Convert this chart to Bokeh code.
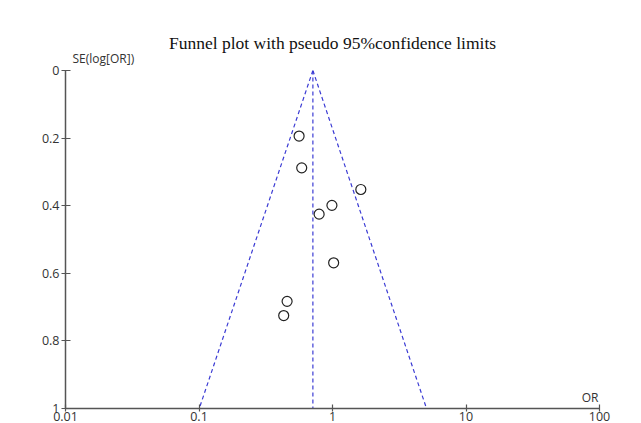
import math
from bokeh.plotting import figure
from bokeh.models import Range1d, FixedTicker, Label, Title
from bokeh.embed import file_html
from bokeh.resources import INLINE

# data
study_or = [0.562, 0.588, 1.63, 0.99, 0.794, 1.02, 0.457, 0.431]
study_se = [0.194, 0.288, 0.352, 0.399, 0.425, 0.569, 0.683, 0.725]
pooled_or = 0.713
se_limits = [0.0, 1.0]
x_ticks = [0.01, 0.1, 1, 10, 100]
x_tick_labels = ["0.01", "0.1", "1", "10", "100"]
y_ticks = [0, 0.2, 0.4, 0.6, 0.8, 1.0]
y_tick_labels = ["0", "0.2", "0.4", "0.6", "0.8", "1"]
title_text = "Funnel plot with pseudo 95%confidence limits"
y_label = "SE(log[OR])"
x_label = "OR"

p = figure(width=641, height=423, x_axis_type="log",
           x_range=Range1d(0.01, 100), y_range=Range1d(1.0, 0.0),
           output_backend="svg", toolbar_location=None,
           min_border_left=65, min_border_right=42, min_border_top=70,
           min_border_bottom=0)
p.grid.visible = False
p.outline_line_color = None
p.background_fill_color = "white"
p.border_fill_color = "white"

axis_color = "#555555"
label_color = "#333333"
for ax in (p.xaxis[0], p.yaxis[0]):
    ax.axis_line_color = axis_color
    ax.axis_line_width = 1.5
    ax.major_tick_line_color = axis_color
    ax.major_tick_line_width = 1.2
    ax.minor_tick_line_color = None
    ax.major_label_text_font = "Open Sans"
    ax.major_label_text_font_size = "12.5px"
    ax.major_label_text_color = label_color

p.xaxis.ticker = FixedTicker(ticks=x_ticks)
p.xaxis.major_label_overrides = {t: l for t, l in zip(x_ticks, x_tick_labels)}
p.xaxis.major_tick_in = 4
p.xaxis.major_tick_out = 3
p.xaxis.major_label_standoff = 0

p.yaxis.ticker = FixedTicker(ticks=y_ticks)
p.yaxis.major_label_overrides = {t: l for t, l in zip(y_ticks, y_tick_labels)}
p.yaxis.major_tick_in = 5
p.yaxis.major_tick_out = 4
p.yaxis.major_label_standoff = 2

# funnel lines (pseudo 95% limits)
blue = "#3b3bd4"
z = 1.96
lo = [pooled_or * math.exp(-z * s) for s in se_limits]
hi = [pooled_or * math.exp(z * s) for s in se_limits]
p.line(lo, se_limits, line_color=blue, line_dash="4 3", line_width=1.2)
p.line(hi, se_limits, line_color=blue, line_dash="4 3", line_width=1.2)
p.line([pooled_or, pooled_or], se_limits, line_color=blue, line_dash="4 3", line_width=1.2)

p.scatter(study_or, study_se, size=10, fill_color="white", line_color="#222222",
          line_width=1.2)

# y-axis caption next to the top of the axis (closest to the frame)
p.add_layout(Title(text=y_label, align="left", offset=7, standoff=8,
                   text_font="Open Sans", text_font_size="12px",
                   text_line_height=0.6,
                   text_font_style="normal", text_color=label_color), "above")
# main title
p.add_layout(Title(text=title_text, align="center", offset=7, standoff=-18,
                   text_font="Liberation Serif", text_font_size="17.5px",
                   text_font_style="normal", text_color="#111111"), "above")

p.add_layout(Label(x=100, y=1, x_offset=-1, y_offset=3, text=x_label,
                   text_align="right", text_baseline="bottom",
                   text_font="Open Sans", text_font_size="12px",
                   text_color=label_color))

open("out.html", "w").write(file_html(p, INLINE))
